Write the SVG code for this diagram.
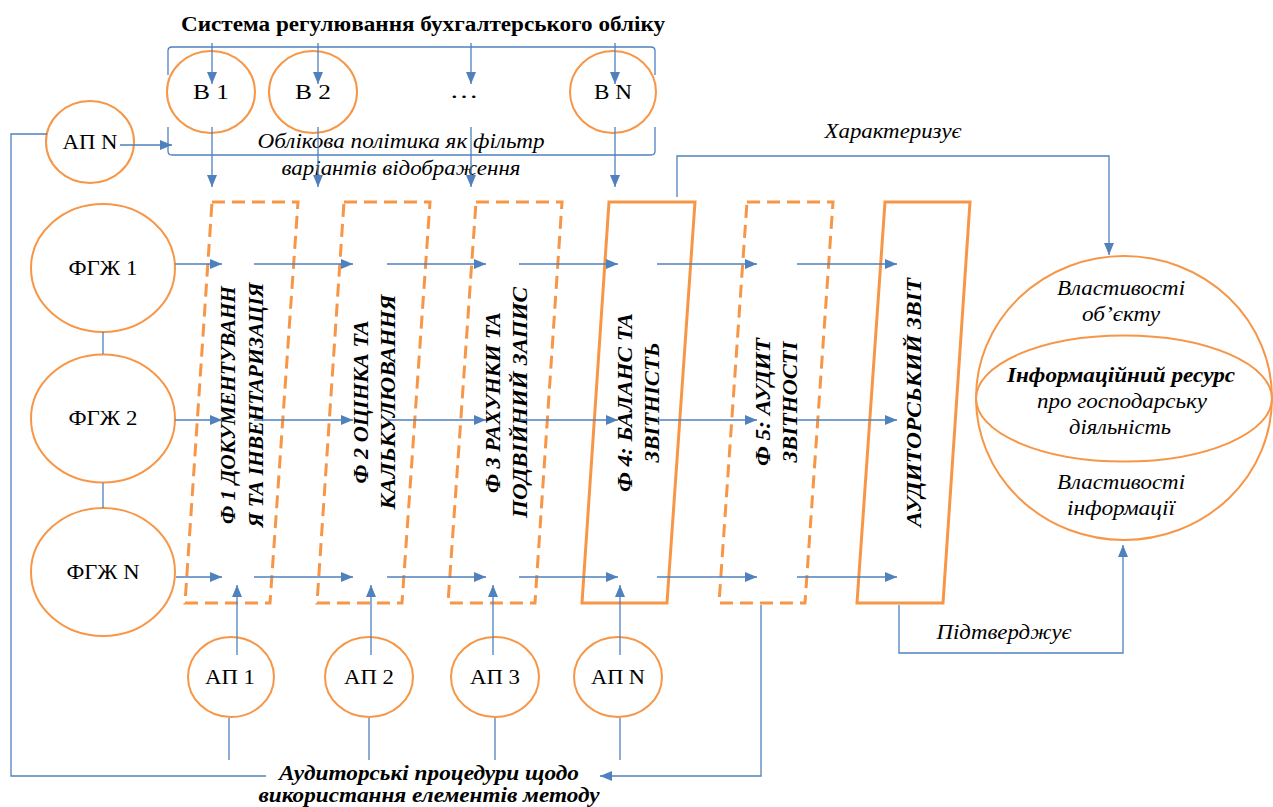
<svg xmlns="http://www.w3.org/2000/svg" width="1273" height="807" viewBox="0 0 1273 807">
<defs>
<marker id="ah" viewBox="0 0 12 10" refX="12" refY="5" markerWidth="12" markerHeight="10" markerUnits="userSpaceOnUse" orient="auto"><path d="M0,0 L12,5 L0,10 z" fill="#4F81BD"/></marker>
<style>
.o{fill:#fff;stroke:#F79646;stroke-width:2}
.bx{fill:none;stroke:#F79646;stroke-width:3}
.d{stroke-dasharray:13 7}
.c{fill:none;stroke:#4F81BD;stroke-width:1.3}
.a{marker-end:url(#ah)}
.t{font-family:"Liberation Serif","Times New Roman",serif;font-size:20px;fill:#000;text-anchor:middle}
.i{font-style:italic}
.b{font-weight:bold}
</style>
</defs>
<rect width="1273" height="807" fill="#fff"/>
<g id="title"><text class="t b" x="423" y="31" textLength="484" lengthAdjust="spacingAndGlyphs">Система регулювання бухгалтерського обліку</text></g>
<g id="policy">
<path class="c" d="M168,75 V51 Q168,47 172,47 H651 Q655,47 655,51 V75"/>
<path class="c" d="M168,127 V151 Q168,155 172,155 H651 Q655,155 655,151 V127"/>
<text class="t i" x="401" y="148" textLength="287" lengthAdjust="spacingAndGlyphs">Облікова політика як фільтр</text>
<text class="t i" x="401" y="175" textLength="239" lengthAdjust="spacingAndGlyphs">варіантів відображення</text>
</g>
<g id="b1"><ellipse class="o" cx="211" cy="92" rx="44" ry="41"/><text class="t" x="211" y="99" textLength="36" lengthAdjust="spacingAndGlyphs">В 1</text></g>
<g id="b2"><ellipse class="o" cx="313" cy="92" rx="44" ry="41"/><text class="t" x="313" y="99" textLength="36" lengthAdjust="spacingAndGlyphs">В 2</text></g>
<g id="bdots"><text class="t" x="464" y="98" textLength="29" lengthAdjust="spacingAndGlyphs">…</text></g>
<g id="bn"><ellipse class="o" cx="613" cy="92" rx="43" ry="41"/><text class="t" x="613" y="99" textLength="38" lengthAdjust="spacingAndGlyphs">В N</text></g>
<g id="apn-top"><ellipse class="o" cx="90" cy="142" rx="44" ry="41"/><text class="t" x="90" y="149" textLength="55" lengthAdjust="spacingAndGlyphs">АП N</text></g>
<g id="fgz1"><ellipse class="o" cx="103" cy="268" rx="72" ry="64"/><text class="t" x="103" y="275" textLength="69" lengthAdjust="spacingAndGlyphs">ФГЖ 1</text></g>
<g id="fgz2"><ellipse class="o" cx="103" cy="418.5" rx="72" ry="64"/><text class="t" x="103" y="425" textLength="69" lengthAdjust="spacingAndGlyphs">ФГЖ 2</text></g>
<g id="fgzn"><ellipse class="o" cx="103" cy="572" rx="72" ry="64"/><text class="t" x="103" y="579" textLength="73" lengthAdjust="spacingAndGlyphs">ФГЖ N</text></g>
<g id="ph1"><polygon class="bx d" points="212,202 298,202 270,603 185,603"/>
<g transform="translate(0,405) rotate(-90)"><text class="t b i" x="0" y="235" textLength="238" lengthAdjust="spacingAndGlyphs">Ф 1 ДОКУМЕНТУВАНН</text><text class="t b i" x="0" y="263" textLength="245" lengthAdjust="spacingAndGlyphs">Я ТА ІНВЕНТАРИЗАЦІЯ</text></g></g>
<g id="ph2"><polygon class="bx d" points="344,202 430,202 402,603 317,603"/>
<g transform="translate(0,402) rotate(-90)"><text class="t b i" x="0" y="368" textLength="163" lengthAdjust="spacingAndGlyphs">Ф 2 ОЦІНКА ТА</text><text class="t b i" x="0" y="395" textLength="215" lengthAdjust="spacingAndGlyphs">КАЛЬКУЛЮВАННЯ</text></g></g>
<g id="ph3"><polygon class="bx d" points="476,202 562,202 535,603 448,603"/>
<g transform="translate(0,402.5) rotate(-90)"><text class="t b i" x="0" y="500" textLength="181" lengthAdjust="spacingAndGlyphs">Ф 3 РАХУНКИ ТА</text><text class="t b i" x="0" y="527" textLength="231" lengthAdjust="spacingAndGlyphs">ПОДВІЙНИЙ ЗАПИС</text></g></g>
<g id="ph4"><polygon class="bx" points="609,202 695,202 667,603 582,603"/>
<g transform="translate(0,402.5) rotate(-90)"><text class="t b i" x="0" y="632" textLength="179" lengthAdjust="spacingAndGlyphs">Ф 4: БАЛАНС ТА</text><text class="t b i" x="0" y="659" textLength="120" lengthAdjust="spacingAndGlyphs">ЗВІТНІСТЬ</text></g></g>
<g id="ph5"><polygon class="bx d" points="747,202 833,202 805,603 719,603"/>
<g transform="translate(0,402) rotate(-90)"><text class="t b i" x="0" y="770" textLength="128" lengthAdjust="spacingAndGlyphs">Ф 5: АУДИТ</text><text class="t b i" x="0" y="797" textLength="121" lengthAdjust="spacingAndGlyphs">ЗВІТНОСТІ</text></g></g>
<g id="report"><polygon class="bx" points="885,202 970,202 943,603 857,603"/>
<g transform="translate(0,402.5) rotate(-90)"><text class="t b i" x="0" y="921" textLength="249" lengthAdjust="spacingAndGlyphs">АУДИТОРСЬКИЙ ЗВІТ</text></g></g>
<g id="ap1"><ellipse class="o" cx="231" cy="677" rx="43" ry="40"/><text class="t" x="230" y="684" textLength="50" lengthAdjust="spacingAndGlyphs">АП 1</text></g>
<g id="ap2"><ellipse class="o" cx="369" cy="677" rx="44" ry="40"/><text class="t" x="369" y="684" textLength="50" lengthAdjust="spacingAndGlyphs">АП 2</text></g>
<g id="ap3"><ellipse class="o" cx="495" cy="677" rx="44" ry="40"/><text class="t" x="495" y="684" textLength="50" lengthAdjust="spacingAndGlyphs">АП 3</text></g>
<g id="apn"><ellipse class="o" cx="618" cy="677" rx="44" ry="40"/><text class="t" x="618" y="684" textLength="54" lengthAdjust="spacingAndGlyphs">АП N</text></g>
<g id="resource">
<ellipse class="o" cx="1124" cy="398" rx="148" ry="142"/>
<ellipse class="o" cx="1124" cy="398.5" rx="148" ry="63" style="fill:none"/>
<text class="t i" x="1121" y="295" textLength="128" lengthAdjust="spacingAndGlyphs">Властивості</text>
<text class="t i" x="1121" y="321" textLength="78" lengthAdjust="spacingAndGlyphs">об’єкту</text>
<text class="t b i" x="1121" y="382" textLength="228" lengthAdjust="spacingAndGlyphs">Інформаційний ресурс</text>
<text class="t i" x="1122" y="408" textLength="170" lengthAdjust="spacingAndGlyphs">про господарську</text>
<text class="t i" x="1120" y="434" textLength="102" lengthAdjust="spacingAndGlyphs">діяльність</text>
<text class="t i" x="1121" y="489" textLength="128" lengthAdjust="spacingAndGlyphs">Властивості</text>
<text class="t i" x="1121" y="515" textLength="108" lengthAdjust="spacingAndGlyphs">інформації</text>
</g>
<g id="procedures">
<text class="t b i" x="429" y="780" textLength="300" lengthAdjust="spacingAndGlyphs">Аудиторські процедури щодо</text>
<text class="t b i" x="429" y="802" textLength="341" lengthAdjust="spacingAndGlyphs">використання елементів методу</text>
</g>
<g id="labels">
<text class="t i" x="893" y="138" textLength="137" lengthAdjust="spacingAndGlyphs">Характеризує</text>
<text class="t i" x="1004" y="639" textLength="135" lengthAdjust="spacingAndGlyphs">Підтверджує</text>
</g>
<g id="connectors">
<path class="c a" d="M212,43 V84"/><path class="c a" d="M318,43 V84"/><path class="c a" d="M471,43 V84"/><path class="c a" d="M615,43 V84"/>
<path class="c a" d="M212,127 V187"/><path class="c a" d="M318,127 V187"/><path class="c a" d="M471,127 V187"/><path class="c a" d="M615,127 V187"/>
<path class="c a" d="M120,145 H172"/>
<path class="c" d="M47,134 H11 V776 H266"/>
<path class="c a" d="M175,264 H222"/><path class="c a" d="M254,264 H353"/><path class="c a" d="M387,264 H486"/><path class="c a" d="M519,264 H618"/><path class="c a" d="M657,264 H757"/><path class="c a" d="M797,264 H897"/>
<path class="c a" d="M175,420 H222"/><path class="c a" d="M254,420 H353"/><path class="c a" d="M387,420 H486"/><path class="c a" d="M519,420 H618"/><path class="c a" d="M657,420 H757"/><path class="c a" d="M797,420 H897"/>
<path class="c a" d="M176,577 H222"/><path class="c a" d="M254,577 H353"/><path class="c a" d="M387,577 H486"/><path class="c a" d="M519,577 H618"/><path class="c a" d="M657,577 H757"/><path class="c a" d="M797,577 H897"/>
<path class="c" d="M103,332 V354"/><path class="c" d="M103,483 V508"/>
<path class="c a" d="M237,655 V585"/><path class="c a" d="M371,655 V585"/><path class="c a" d="M493,655 V585"/><path class="c a" d="M620,655 V585"/>
<path class="c" d="M229,718 V760"/><path class="c" d="M369,718 V760"/><path class="c" d="M495,718 V760"/><path class="c" d="M620,718 V760"/>
<path class="c a" d="M761,605 V776 H600"/>
<path class="c a" d="M677,197 V156 H1109 V255"/>
<path class="c a" d="M899,605 V653 H1123 V545"/>
</g>
</svg>
